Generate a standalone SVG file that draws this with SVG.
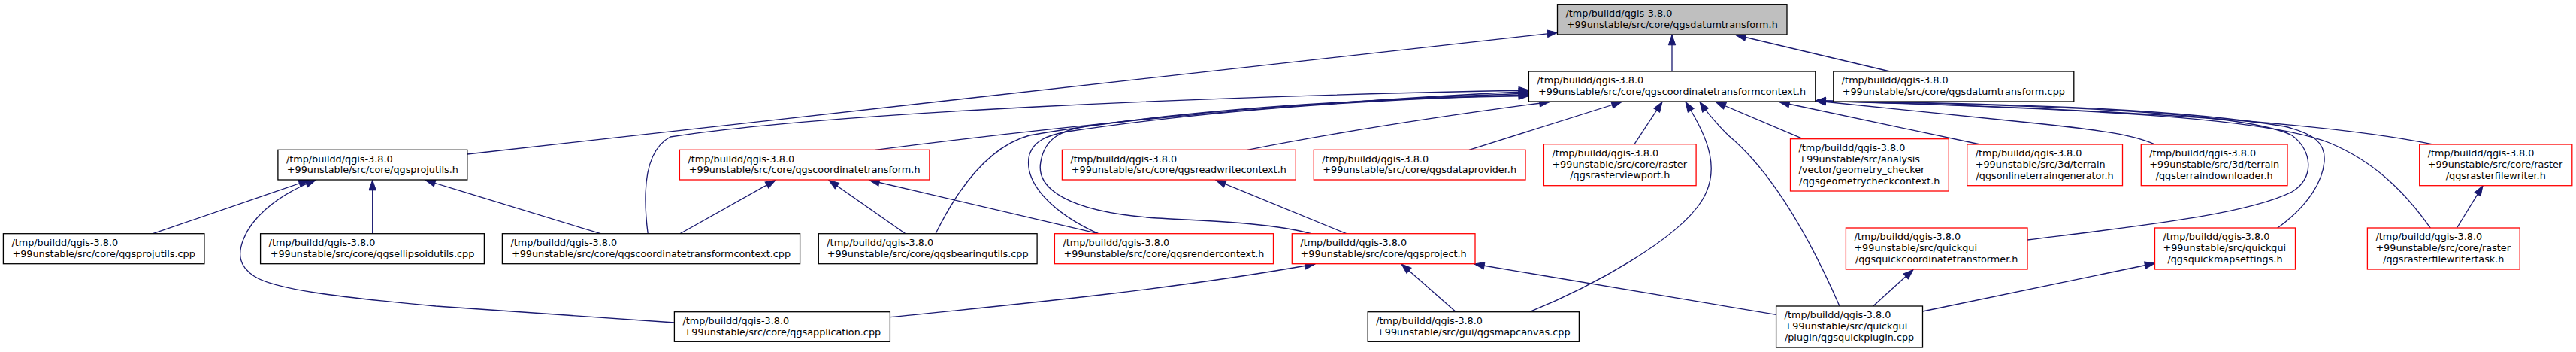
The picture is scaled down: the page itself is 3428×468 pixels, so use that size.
<svg xmlns="http://www.w3.org/2000/svg" width="3428" height="468" viewBox="0 0 3428 468">
<style>
.n rect{fill:#fff;stroke:#000;stroke-width:1.3}
.r rect{stroke:#f00}
.g rect{fill:#bfbfbf}
text{font-family:"DejaVu Sans",sans-serif;font-size:12.8px;fill:#000}
.m{text-anchor:middle}
#edges path{fill:none;stroke:#191970;stroke-width:1.3;marker-end:url(#a)}
</style>
<defs>
<marker id="a" markerUnits="userSpaceOnUse" markerWidth="16" markerHeight="12" refX="13.3" refY="4.7" orient="auto" overflow="visible">
<path d="M0,0 L13.3,4.7 L0,9.4 z" fill="#191970" stroke="#191970" stroke-width="1"/>
</marker>
</defs>
<rect width="3428" height="468" fill="#fff"/>
<g id="edges">
<path d="M2225,95 L2225,46.5"/>
<path d="M2515,95 L2310,46.5"/>
<path d="M621.8,205 L2072.5,43.3"/>
<path d="M203.4,310.7 L411,239.5"/>
<path d="M897.4,429 C760,420 640,412 580,407 C450,395 365,385 338,367 C318,354 316,338 324,318 C333,294 362,262 420,239.5"/>
<path d="M495.7,310.7 L495.7,239.5"/>
<path d="M799.3,310.7 L566,239.5"/>
<path d="M904.8,310.7 L1032,239.5"/>
<path d="M1205,310.7 L1103,239.5"/>
<path d="M1461.7,310.7 L1157,239.5"/>
<path d="M1791.7,310.7 L1618,239.5"/>
<path d="M1184.4,421.7 C1350,405 1560,385 1750,351"/>
<path d="M1937.5,414.7 L1865,351"/>
<path d="M2363.6,418.3 L1962,351"/>
<path d="M2492.7,407 L2546,358.5"/>
<path d="M2558.5,414 L2867.5,350"/>
<path d="M3269.5,303 L3304,246.9"/>
<path d="M862.2,310.7 C855,255 858,200 892,182 C1100,150 1600,128 2034.4,120"/>
<path d="M1165,199.3 C1450,163 1750,135 2034.4,121.5"/>
<path d="M1245,310.7 C1275,250 1315,195 1370,180 C1550,148 1800,133 2034.4,124"/>
<path d="M1461.7,310.7 C1405,285 1360,245 1370,205 C1376,188 1392,180 1420,175 C1620,145 1830,132 2034.4,126"/>
<path d="M1745,310.7 C1690,296 1610,294 1540,290 C1420,282 1378,250 1385,215 C1390,185 1410,173 1450,167 C1650,140 1850,130 2034.4,127.5"/>
<path d="M1660,199.3 C1800,172 1950,150 2062,135.5"/>
<path d="M1955,199.3 L2158,135.5"/>
<path d="M2175,191.7 L2212,135.5"/>
<path d="M2035.5,414.7 C2120,380 2230,320 2264,268 C2290,228 2275,185 2243,135.5"/>
<path d="M2448,407 C2410,320 2360,230 2300,180 C2285,165 2272,150 2262,135.5"/>
<path d="M2399.3,184.7 L2283.3,135.5"/>
<path d="M2635,192 L2368,135.5"/>
<path d="M2866.7,191.7 C2840,180 2800,173 2700,163 C2600,153 2500,143 2416,134"/>
<path d="M3236,191.7 C3150,174 2950,148 2416,134"/>
<path d="M3234.5,303.3 C3200,255 3160,215 3100,190 C3020,158 2800,145 2416,134"/>
<path d="M3030.6,303.3 C3060,282 3090,250 3093,215 C3095,190 3080,178 3040,168 C2900,145 2700,138 2416,134"/>
<path d="M2698,319 C2850,300 2990,285 3050,255 C3080,238 3078,200 3050,180 C2990,150 2750,140 2416,134"/>
</g>
<g id="n_datumtransform_h" class="n g"><rect x="2072.5" y="5.7" width="305.5" height="40.3"/><text x="2083.5" y="21.9">/tmp/buildd/qgis-3.8.0</text><text class="m" x="2225.25" y="36.6">+99unstable/src/core/qgsdatumtransform.h</text></g>
<g id="n_ctc_h" class="n"><rect x="2034.4" y="95" width="381.4" height="40"/><text x="2045.4" y="111.2">/tmp/buildd/qgis-3.8.0</text><text class="m" x="2225.1" y="125.9">+99unstable/src/core/qgscoordinatetransformcontext.h</text></g>
<g id="n_datumtransform_cpp" class="n"><rect x="2439.8" y="95" width="320" height="40"/><text x="2450.8" y="111.2">/tmp/buildd/qgis-3.8.0</text><text class="m" x="2599.8" y="125.9">+99unstable/src/core/qgsdatumtransform.cpp</text></g>
<g id="n_projutils_h" class="n"><rect x="369.9" y="199.3" width="251.9" height="39.7"/><text x="380.9" y="215.5">/tmp/buildd/qgis-3.8.0</text><text class="m" x="495.85" y="230.2">+99unstable/src/core/qgsprojutils.h</text></g>
<g id="n_coordinatetransform_h" class="n r"><rect x="904.4" y="199.3" width="332.5" height="39.7"/><text x="915.4" y="215.5">/tmp/buildd/qgis-3.8.0</text><text class="m" x="1070.65" y="230.2">+99unstable/src/core/qgscoordinatetransform.h</text></g>
<g id="n_readwritecontext_h" class="n r"><rect x="1413.4" y="199.3" width="310.9" height="39.7"/><text x="1424.4" y="215.5">/tmp/buildd/qgis-3.8.0</text><text class="m" x="1568.85" y="230.2">+99unstable/src/core/qgsreadwritecontext.h</text></g>
<g id="n_dataprovider_h" class="n r"><rect x="1748.3" y="199.3" width="281.7" height="39.7"/><text x="1759.3" y="215.5">/tmp/buildd/qgis-3.8.0</text><text class="m" x="1889.15" y="230.2">+99unstable/src/core/qgsdataprovider.h</text></g>
<g id="n_rasterviewport_h" class="n r"><rect x="2054.4" y="191.7" width="202.7" height="55"/><text x="2065.4" y="207.9">/tmp/buildd/qgis-3.8.0</text><text x="2065.4" y="222.6">+99unstable/src/core/raster</text><text class="m" x="2155.75" y="237.3">/qgsrasterviewport.h</text></g>
<g id="n_geometrycheckcontext_h" class="n r"><rect x="2382.5" y="184.7" width="210.8" height="69.3"/><text x="2393.5" y="200.9">/tmp/buildd/qgis-3.8.0</text><text x="2393.5" y="215.6">+99unstable/src/analysis</text><text x="2393.5" y="230.3">/vector/geometry_checker</text><text class="m" x="2487.9" y="245">/qgsgeometrycheckcontext.h</text></g>
<g id="n_onlineterraingenerator_h" class="n r"><rect x="2617.7" y="192" width="206.8" height="54.7"/><text x="2628.7" y="208.2">/tmp/buildd/qgis-3.8.0</text><text x="2628.7" y="222.9">+99unstable/src/3d/terrain</text><text class="m" x="2721.1" y="237.6">/qgsonlineterraingenerator.h</text></g>
<g id="n_terraindownloader_h" class="n r"><rect x="2849.3" y="192" width="194.7" height="54.7"/><text x="2860.3" y="208.2">/tmp/buildd/qgis-3.8.0</text><text x="2860.3" y="222.9">+99unstable/src/3d/terrain</text><text class="m" x="2946.65" y="237.6">/qgsterraindownloader.h</text></g>
<g id="n_rasterfilewriter_h" class="n r"><rect x="3219.7" y="192" width="203.1" height="54.7"/><text x="3230.7" y="208.2">/tmp/buildd/qgis-3.8.0</text><text x="3230.7" y="222.9">+99unstable/src/core/raster</text><text class="m" x="3321.25" y="237.6">/qgsrasterfilewriter.h</text></g>
<g id="n_projutils_cpp" class="n"><rect x="4.4" y="310.7" width="267.5" height="40"/><text x="15.4" y="326.9">/tmp/buildd/qgis-3.8.0</text><text class="m" x="138.15" y="341.6">+99unstable/src/core/qgsprojutils.cpp</text></g>
<g id="n_ellipsoidutils_cpp" class="n"><rect x="346.6" y="310.7" width="297.8" height="40"/><text x="357.6" y="326.9">/tmp/buildd/qgis-3.8.0</text><text class="m" x="495.5" y="341.6">+99unstable/src/core/qgsellipsoidutils.cpp</text></g>
<g id="n_ctc_cpp" class="n"><rect x="668.4" y="310.7" width="396.2" height="40"/><text x="679.4" y="326.9">/tmp/buildd/qgis-3.8.0</text><text class="m" x="866.5" y="341.6">+99unstable/src/core/qgscoordinatetransformcontext.cpp</text></g>
<g id="n_bearingutils_cpp" class="n"><rect x="1089.3" y="310.7" width="290.8" height="40"/><text x="1100.3" y="326.9">/tmp/buildd/qgis-3.8.0</text><text class="m" x="1234.7" y="341.6">+99unstable/src/core/qgsbearingutils.cpp</text></g>
<g id="n_rendercontext_h" class="n r"><rect x="1403.4" y="310.7" width="291.1" height="40"/><text x="1414.4" y="326.9">/tmp/buildd/qgis-3.8.0</text><text class="m" x="1548.95" y="341.6">+99unstable/src/core/qgsrendercontext.h</text></g>
<g id="n_project_h" class="n r"><rect x="1719.3" y="310.7" width="243.7" height="40"/><text x="1730.3" y="326.9">/tmp/buildd/qgis-3.8.0</text><text class="m" x="1841.15" y="341.6">+99unstable/src/core/qgsproject.h</text></g>
<g id="n_quickcoordinatetransformer_h" class="n r"><rect x="2456.4" y="303" width="241.6" height="55"/><text x="2467.4" y="319.2">/tmp/buildd/qgis-3.8.0</text><text x="2467.4" y="333.9">+99unstable/src/quickgui</text><text class="m" x="2577.2" y="348.6">/qgsquickcoordinatetransformer.h</text></g>
<g id="n_quickmapsettings_h" class="n r"><rect x="2867.5" y="303" width="187" height="55"/><text x="2878.5" y="319.2">/tmp/buildd/qgis-3.8.0</text><text x="2878.5" y="333.9">+99unstable/src/quickgui</text><text class="m" x="2961" y="348.6">/qgsquickmapsettings.h</text></g>
<g id="n_rasterfilewritertask_h" class="n r"><rect x="3150.4" y="303" width="202.8" height="55"/><text x="3161.4" y="319.2">/tmp/buildd/qgis-3.8.0</text><text x="3161.4" y="333.9">+99unstable/src/core/raster</text><text class="m" x="3251.8" y="348.6">/qgsrasterfilewritertask.h</text></g>
<g id="n_application_cpp" class="n"><rect x="897.4" y="414.7" width="287" height="39.6"/><text x="908.4" y="430.9">/tmp/buildd/qgis-3.8.0</text><text class="m" x="1040.9" y="445.6">+99unstable/src/core/qgsapplication.cpp</text></g>
<g id="n_mapcanvas_cpp" class="n"><rect x="1820.2" y="414.7" width="281.2" height="39.6"/><text x="1831.2" y="430.9">/tmp/buildd/qgis-3.8.0</text><text class="m" x="1960.8" y="445.6">+99unstable/src/gui/qgsmapcanvas.cpp</text></g>
<g id="n_quickplugin_cpp" class="n"><rect x="2363.6" y="407" width="194.9" height="55"/><text x="2374.6" y="423.2">/tmp/buildd/qgis-3.8.0</text><text x="2374.6" y="437.9">+99unstable/src/quickgui</text><text class="m" x="2461.05" y="452.6">/plugin/qgsquickplugin.cpp</text></g>
</svg>
